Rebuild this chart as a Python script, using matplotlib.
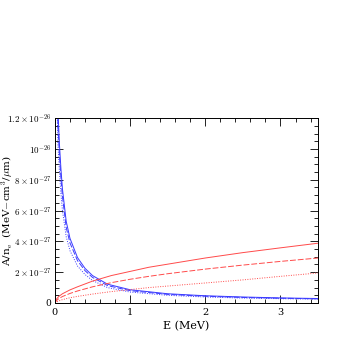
import numpy as np
import matplotlib.pyplot as plt
from matplotlib.ticker import MultipleLocator, FixedLocator, FixedFormatter

plt.rcParams['font.family'] = 'DejaVu Serif'
plt.rcParams['mathtext.fontset'] = 'cm'

# energia (MeV) y valores en unidades de 1e-27 MeV-cm^3/um
E_blue = [0.03, 0.04, 0.06, 0.08, 0.1, 0.15, 0.2, 0.3, 0.4, 0.5, 0.7, 1.0, 1.5, 2.0, 2.5, 3.0, 3.5]
blue_solid = [15.0, 12.5, 10.3, 8.7, 7.4, 5.3, 4.2, 2.95, 2.25, 1.78, 1.22, 0.86, 0.6, 0.47, 0.39, 0.33, 0.29]
blue_dashed = [14.0, 11.6, 9.6, 8.1, 6.9, 4.9, 3.9, 2.75, 2.1, 1.66, 1.13, 0.8, 0.56, 0.44, 0.36, 0.31, 0.27]
blue_dotted = [12.5, 10.3, 8.5, 7.1, 6.0, 4.3, 3.4, 2.4, 1.85, 1.46, 1.0, 0.71, 0.5, 0.39, 0.32, 0.28, 0.25]

E_red = [0.0, 0.02, 0.05, 0.1, 0.2, 0.3, 0.5, 0.75, 1.0, 1.25, 1.5, 2.0, 2.5, 3.0, 3.5]
red_solid = [0.0, 0.25, 0.42, 0.6, 0.85, 1.05, 1.42, 1.78, 2.05, 2.32, 2.52, 2.92, 3.27, 3.58, 3.88]
red_dashed = [0.0, 0.15, 0.28, 0.42, 0.62, 0.78, 1.05, 1.32, 1.54, 1.73, 1.9, 2.2, 2.46, 2.7, 2.92]
red_dotted = [0.0, 0.06, 0.13, 0.22, 0.34, 0.43, 0.58, 0.74, 0.87, 1.0, 1.1, 1.3, 1.5, 1.73, 1.95]

yticks = [0, 2e-27, 4e-27, 6e-27, 8e-27, 1e-26, 1.2e-26]
ytick_labels = ['0', r'$2\times10^{-27}$', r'$4\times10^{-27}$', r'$6\times10^{-27}$',
                r'$8\times10^{-27}$', r'$10^{-26}$', r'$1.2\times10^{-26}$']

fig = plt.figure(figsize=(3.59, 3.59), dpi=100)
ax = fig.add_axes([0.153, 0.156, 0.733, 0.515])

s = 1e-27
bc = '#3a3aff'
rc = '#ff4a4a'
ax.plot(E_blue, np.array(blue_solid) * s, color=bc, lw=0.7)
ax.plot(E_blue, np.array(blue_dashed) * s, color=bc, lw=0.7, ls=(0, (6, 2)))
ax.plot(E_blue, np.array(blue_dotted) * s, color=bc, lw=0.7, ls=(0, (1, 1.5)))
ax.plot(E_red, np.array(red_solid) * s, color=rc, lw=0.7)
ax.plot(E_red, np.array(red_dashed) * s, color=rc, lw=0.7, ls=(0, (6, 2)))
ax.plot(E_red, np.array(red_dotted) * s, color=rc, lw=0.7, ls=(0, (1, 1.5)))

ax.set_xlim(0, 3.5)
ax.set_ylim(0, 1.2e-26)
ax.xaxis.set_major_locator(MultipleLocator(1))
ax.xaxis.set_minor_locator(MultipleLocator(0.2))
ax.yaxis.set_major_locator(FixedLocator(yticks))
ax.yaxis.set_major_formatter(FixedFormatter(ytick_labels))
ax.yaxis.set_minor_locator(MultipleLocator(5e-28))
ax.tick_params(which='both', direction='in', top=True, right=True, labelsize=7, width=0.6)
ax.tick_params(axis='y', labelsize=6.5, pad=2.5)
ax.tick_params(which='major', length=6)
ax.tick_params(which='minor', length=3)
for sp in ax.spines.values():
    sp.set_linewidth(0.7)

ax.set_xlabel('E (MeV)', fontsize=8, labelpad=3)
ax.set_ylabel(r'A/n$_{\rm e}$  (MeV$-$cm$^3$/$\mu$m)', fontsize=7.5)
ax.yaxis.set_label_coords(-0.15, 0.5)

fig.savefig('out.png', dpi=100)
